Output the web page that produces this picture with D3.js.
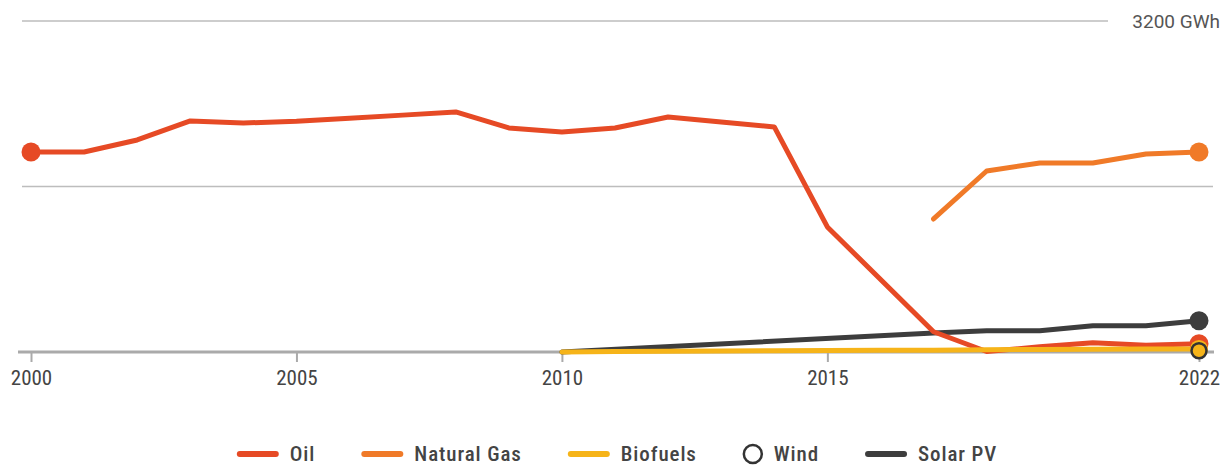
<!DOCTYPE html>
<html lang="en">
<head>
    <meta charset="UTF-8">
    <title>Electricity generation by source</title>
    <script src="https://d3js.org/d3.v7.min.js"></script>
    <style>
        body {
            margin: 0;
            background: #fff;
        }
        svg text {
            font-family: "Roboto Condensed", "Liberation Sans Narrow", "DejaVu Sans Condensed", sans-serif;
        }
        .unit-label {
            font-family: Roboto, "Liberation Sans", sans-serif !important;
        }
    </style>
</head>
<body>
    <div id="chart"></div>
    <script>
        const width = 1227;
        const height = 466;

        // years and values (GWh)
        const years = d3.range(2000, 2023);
        const oil = [1934, 1934, 2050, 2234, 2214, 2230, 2260, 2290, 2321, 2166, 2127, 2166, 2272, 2224, 2176, 1209, null, 196, 5, 50, 90, 65, 80];
        const naturalGas = [null, null, null, null, null, null, null, null, null, null, null, null, null, null, null, null, null, 1286, 1750, 1828, 1828, 1915, 1934];
        const biofuels = [null, null, null, null, null, null, null, null, null, null, 0, 4, 8, 10, 12, 14, 16, 18, 22, 25, 27, 28, 30];
        const wind = [null, null, null, null, null, null, null, null, null, null, null, null, null, null, null, null, null, null, null, null, null, null, 12];
        const solarPV = [null, null, null, null, null, null, null, null, null, null, 0, null, null, null, null, null, null, 184, 206, 206, 254, 254, 303];

        const xTicks = [2000, 2005, 2010, 2015, 2022];
        const yGrid = [0, 1600, 3200];
        const unit = "GWh";

        const series = [
            { name: "Solar PV", values: solarPV, color: "#3d3d3d" },
            { name: "Oil", values: oil, color: "#e64a25" },
            { name: "Natural Gas", values: naturalGas, color: "#f07a28" },
            { name: "Biofuels", values: biofuels, color: "#f6b419" }
        ];
        const legendItems = [
            { name: "Oil", color: "#e64a25", type: "line" },
            { name: "Natural Gas", color: "#f07a28", type: "line" },
            { name: "Biofuels", color: "#f6b419", type: "line" },
            { name: "Wind", color: "#333", type: "circle" },
            { name: "Solar PV", color: "#3d3d3d", type: "line" }
        ];

        const x = d3.scaleLinear().domain([2000, 2022]).range([31, 1199]);
        const y = d3.scaleLinear().domain([0, 3200]).range([352, 21]);

        const svg = d3.select("#chart").append("svg")
            .attr("width", width)
            .attr("height", height);

        // gridlines
        svg.append("line")
            .attr("x1", 22).attr("x2", 1108)
            .attr("y1", y(3200)).attr("y2", y(3200))
            .attr("stroke", "#bdbdbd").attr("stroke-width", 1.5);
        svg.append("line")
            .attr("x1", 22).attr("x2", 1213)
            .attr("y1", y(1600)).attr("y2", y(1600))
            .attr("stroke", "#bdbdbd").attr("stroke-width", 1.5);
        svg.append("text")
            .attr("class", "unit-label")
            .attr("x", 1220).attr("y", y(3200))
            .attr("dy", "0.35em")
            .attr("text-anchor", "end")
            .attr("font-size", "19px")
            .attr("fill", "#555")
            .text(yGrid[2] + " " + unit);

        // x axis
        const xAxis = svg.append("g")
            .attr("transform", `translate(0, ${y(0)})`)
            .call(d3.axisBottom(x).tickValues(xTicks).tickFormat(d3.format("d")).tickSize(10).tickPadding(8));
        xAxis.select(".domain").remove();
        xAxis.selectAll(".tick line").attr("stroke", "#aaa").attr("stroke-width", 2);
        xAxis.selectAll(".tick text")
            .attr("font-size", "21px")
            .attr("fill", "#444");
        svg.append("line")
            .attr("x1", 18).attr("x2", 1214)
            .attr("y1", y(0)).attr("y2", y(0))
            .attr("stroke", "#aaa").attr("stroke-width", 3);

        const line = d3.line()
            .x(d => x(d.year))
            .y(d => y(d.value));

        series.forEach(s => {
            const pts = years.map((yr, i) => ({ year: yr, value: s.values[i] }))
                .filter(d => d.value !== null);
            svg.append("path")
                .datum(pts)
                .attr("fill", "none")
                .attr("stroke", s.color)
                .attr("stroke-width", 5)
                .attr("stroke-linejoin", "round")
                .attr("stroke-linecap", "round")
                .attr("d", line);
        });

        // end markers
        const last = years.length - 1;
        svg.append("circle")
            .attr("cx", x(years[0])).attr("cy", y(oil[0]))
            .attr("r", 9.5).attr("fill", "#e64a25");
        svg.append("circle")
            .attr("cx", x(years[last])).attr("cy", y(solarPV[last]))
            .attr("r", 9.5).attr("fill", "#3d3d3d");
        svg.append("circle")
            .attr("cx", x(years[last])).attr("cy", y(naturalGas[last]))
            .attr("r", 9.5).attr("fill", "#f07a28");
        svg.append("circle")
            .attr("cx", x(years[last])).attr("cy", y(oil[last]))
            .attr("r", 9.5).attr("fill", "#e64a25");
        svg.append("circle")
            .attr("cx", x(years[last])).attr("cy", y(biofuels[last]))
            .attr("r", 9).attr("fill", "#f6b419");
        svg.append("circle")
            .attr("cx", x(years[last])).attr("cy", y(wind[last]))
            .attr("r", 7.5).attr("fill", "none")
            .attr("stroke", "#333").attr("stroke-width", 2.5);

        // legend
        const legend = svg.append("g");
        let cursor = 0;
        legendItems.forEach(item => {
            const g = legend.append("g");
            let symW;
            if (item.type === "line") {
                g.append("line")
                    .attr("x1", 3).attr("x2", 39)
                    .attr("y1", 0).attr("y2", 0)
                    .attr("stroke", item.color)
                    .attr("stroke-width", 6)
                    .attr("stroke-linecap", "round");
                symW = 42;
            } else {
                g.append("circle")
                    .attr("cx", 10).attr("cy", 0).attr("r", 9)
                    .attr("fill", "none")
                    .attr("stroke", item.color)
                    .attr("stroke-width", 2.5);
                symW = 20;
            }
            const t = g.append("text")
                .attr("x", symW + 11)
                .attr("dy", "0.35em")
                .attr("font-size", "21px")
                .attr("font-weight", 500)
                .attr("letter-spacing", "0.9px")
                .attr("fill", "#444")
                .text(item.name);
            const w = symW + 11 + t.node().getComputedTextLength();
            g.attr("transform", `translate(${cursor}, 0)`);
            cursor += w + 46;
        });
        const total = cursor - 46;
        legend.attr("transform", `translate(${617 - total / 2}, 454)`);
    </script>
</body>
</html>
